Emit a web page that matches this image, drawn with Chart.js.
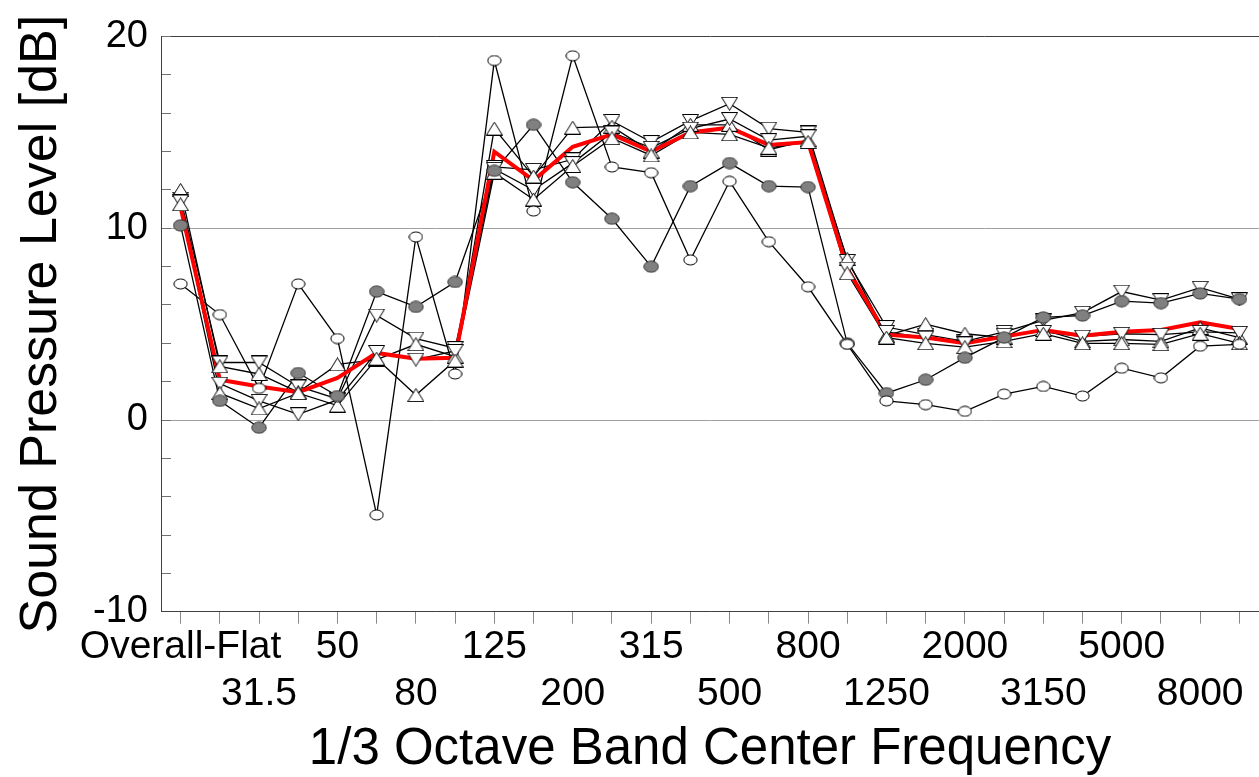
<!DOCTYPE html>
<html>
<head>
<meta charset="utf-8">
<script src="https://cdn.jsdelivr.net/npm/chart.js@4.4.1/dist/chart.umd.min.js"></script>
<style>
  html, body { margin: 0; padding: 0; background: #fff; }
  #wrap { width: 1259px; height: 777px; position: relative; }
</style>
</head>
<body>
<div id="wrap"><canvas id="myChart"></canvas></div>
<script>
"use strict";
const bands = ['Overall-Flat', '25', '31.5', '40', '50', '63', '80', '100', '125', '160', '200', '250', '315', '400',
               '500', '630', '800', '1000', '1250', '1600', '2000', '2500', '3150', '4000', '5000', '6300', '8000', '10000'];

// measured series (dB)
const downA = [11.55, 3.0, 3.0, 1.75, 1.1, 5.45, 4.25, 3.75, 13.2, 13.05, 13.6, 15.6, 14.5, 15.6,
               16.5, 15.2, 15.0, 8.3, 4.85, 4.45, 4.1, 4.6, 5.2, 5.6, 6.7, 6.25, 6.9, 6.3];
const downB = [11.4, 1.9, 1.0, 0.3, 1.05, 3.55, 3.15, 3.6, 13.1, 12.0, 13.4, 15.0, 14.2, 15.2,
               15.7, 14.6, 14.8, 7.9, 4.6, 4.3, 4.0, 4.45, 4.6, 4.35, 4.5, 4.45, 4.6, 4.55];
const upA = [12.0, 2.8, 2.4, 1.45, 2.9, 3.15, 3.95, 3.3, 15.2, 12.7, 15.25, 15.3, 14.0, 15.4,
             15.4, 14.1, 14.6, 8.4, 4.4, 5.0, 4.5, 4.3, 4.7, 4.1, 4.2, 4.1, 4.8, 4.3];
const upB = [11.25, 1.4, 0.6, 1.4, 0.75, 3.2, 1.3, 3.1, 12.9, 11.5, 13.25, 14.7, 13.8, 15.0,
             14.9, 14.2, 14.5, 7.65, 4.3, 4.0, 3.8, 4.1, 4.5, 4.0, 4.0, 3.95, 4.5, 4.0];
const grayDots = [10.15, 1.0, -0.4, 2.45, 1.25, 6.7, 5.9, 7.2, 13.0, 15.4, 12.4, 10.5, 8.0, 12.2,
                  13.4, 12.2, 12.15, 4.0, 1.4, 2.1, 3.25, 4.3, 5.35, 5.45, 6.2, 6.1, 6.6, 6.3];
const openDots = [7.1, 5.5, 1.65, 7.1, 4.25, -4.95, 9.55, 2.4, 18.75, 10.9, 19.0, 13.2, 12.9, 8.35,
                  12.45, 9.3, 6.95, 3.95, 1.0, 0.8, 0.45, 1.35, 1.75, 1.25, 2.7, 2.2, 3.85, 3.95];
// average (red)
const average = [11.1, 2.1, 1.75, 1.45, 2.2, 3.5, 3.2, 3.25, 14.0, 12.5, 14.25, 14.9, 14.0, 15.0,
                 15.25, 14.35, 14.5, 7.9, 4.45, 4.3, 4.0, 4.35, 4.7, 4.4, 4.6, 4.7, 5.1, 4.75];

const yTicks = ['-10', '0', '10', '20'];
const FONT = 'Liberation Sans, Arial, sans-serif';

// little canvases used as point markers
function marker(kind) {
    let c = document.createElement('canvas');
    let g;
    if (kind === 'up' || kind === 'down') {
        c.width = 17; c.height = 14;
        g = c.getContext('2d');
        g.beginPath();
        if (kind === 'up') { g.moveTo(8.5, 0.5); g.lineTo(16.5, 13.5); g.lineTo(0.5, 13.5); }
        else { g.moveTo(0.5, 0.5); g.lineTo(16.5, 0.5); g.lineTo(8.5, 13.5); }
        g.closePath();
        g.fillStyle = '#fff';
    } else if (kind === 'gray') {
        c.width = 16; c.height = 13;
        g = c.getContext('2d');
        g.beginPath();
        g.ellipse(8, 6.5, 7.2, 5.6, 0, 0, Math.PI * 2);
        g.fillStyle = '#808080';
    } else {
        c.width = 15; c.height = 12;
        g = c.getContext('2d');
        g.beginPath();
        g.ellipse(7.5, 6, 6.6, 5, 0, 0, Math.PI * 2);
        g.fillStyle = '#fff';
    }
    g.fill();
    g.strokeStyle = kind === 'gray' ? '#333' : '#000';
    g.lineWidth = 1;
    g.stroke();
    return c;
}

const series = [
    {data: openDots, style: marker('open')},
    {data: grayDots, style: marker('gray')},
    {data: upB, style: marker('up')},
    {data: downB, style: marker('down')},
    {data: upA, style: marker('up')},
    {data: downA, style: marker('down')}
];

let datasets = [];
series.forEach(s => datasets.push({data: s.data, borderColor: '#000', borderWidth: 1.3, pointRadius: 0, order: 3}));
datasets.push({data: average, borderColor: '#ff0000', borderWidth: 4, pointRadius: 0, order: 2});
series.forEach(s => datasets.push({data: s.data, showLine: false, pointStyle: s.style, pointRadius: 7, order: 1}));

let myChart = document.getElementById('myChart').getContext('2d');
let spectrumChart = new Chart(myChart, {
    type: 'line',
    data: { labels: bands, datasets: datasets },
    options: {
        responsive: true,
        maintainAspectRatio: false,
        animation: false,
        layout: { autoPadding: false, padding: { top: 36.6, left: 0, right: 0, bottom: 0 } },
        plugins: { legend: { display: false }, tooltip: { enabled: false } },
        scales: {
            x: {
                offset: true,
                grid: { offset: false, drawOnChartArea: false, tickLength: 12, tickColor: '#888' },
                border: { color: '#404040' },
                ticks: {
                    autoSkip: false, maxRotation: 0, minRotation: 0, padding: 0, color: '#000',
                    font: { family: FONT, size: 39, lineHeight: 1.21 },
                    callback: (v, i) => i % 4 === 0 ? bands[i] : (i % 4 === 2 ? ['', bands[i]] : '')
                },
                title: {
                    display: true, text: '1/3 Octave Band Center Frequency', color: '#000',
                    font: { family: FONT, size: 51, lineHeight: 1 }, padding: { top: 0, bottom: 2 }
                },
                afterFit: (scale) => {
                    scale.height = 165.3;
                    scale.paddingLeft = 0;
                    scale.paddingRight = 0;
                }
            },
            y: {
                min: -10, max: 20,
                grid: {
                    color: ctx => ctx.tick.value === 20 ? '#404040' : (ctx.tick.value % 10 === 0 ? '#a0a0a0' : 'rgba(0,0,0,0)'),
                    tickColor: '#707070', tickLength: -10
                },
                border: { color: '#404040' },
                ticks: {
                    stepSize: 2, autoSkip: false, padding: 23, color: '#000',
                    font: { family: FONT, size: 38 },
                    callback: v => yTicks.includes(String(v)) ? String(v) : ''
                },
                title: {
                    display: true, text: 'Sound Pressure Level [dB]', color: '#000',
                    font: { family: FONT, size: 52, lineHeight: 1 }, padding: { top: 16, bottom: 0 }
                },
                afterFit: (scale) => {
                    scale.width = 161;
                    scale.paddingTop = 0;
                    scale.paddingBottom = 0;
                }
            }
        }
    }
});
</script>
</body>
</html>
